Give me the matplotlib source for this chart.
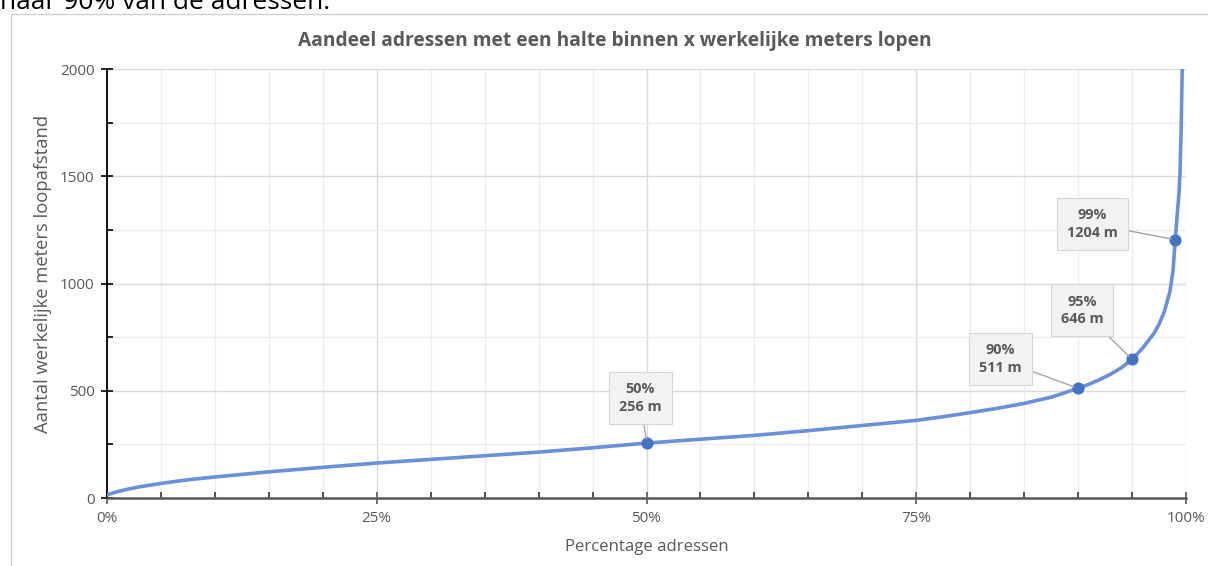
import matplotlib
matplotlib.use("Agg")
import matplotlib.pyplot as plt
from matplotlib.patches import Rectangle
from matplotlib.ticker import MultipleLocator, FuncFormatter

pct = [0, 1, 2, 3, 5, 7.5, 10, 15, 20, 25, 30, 35, 40, 45, 50, 55, 60, 65, 70, 75,
       77.5, 80, 82.5, 85, 87.5, 90, 91, 92, 93, 94, 95, 96, 97, 97.5, 98, 98.5,
       98.8, 99, 99.2, 99.35, 99.45, 99.55, 99.65, 99.75]
meters = [15, 30, 42, 52, 68, 85, 98, 122, 143, 163, 180, 197, 214, 234, 256, 274, 292, 314, 338, 362,
          379, 398, 418, 441, 470, 511, 530, 552, 577, 607, 646, 700, 765, 810, 870, 960,
          1060, 1204, 1330, 1420, 1520, 1720, 2000, 2200]

# gemarkeerde punten
mark_pct = [50, 90, 95, 99]
mark_m = [256, 511, 646, 1204]
mark_offsets = [(-6, 45), (-78, 29), (-50, 49), (-83, 16)]  # in pixels

title = "Aandeel adressen met een halte binnen x werkelijke meters lopen"
xlabel = "Percentage adressen"
ylabel = "Aantal werkelijke meters loopafstand"

plt.rcParams['font.family'] = ['Open Sans', 'DejaVu Sans']
grey = '#595959'
line_col = '#6A8FDB'
dot_col = '#4472C4'

W, H = 1208, 566
fig = plt.figure(figsize=(W / 100, H / 100), dpi=100)

# tekst van de pagina boven de grafiek (afgesneden)
fig.text(0.0, 1 - 9 / H, "naar 90% van de adressen.", fontsize=19, color='black',
         ha='left', va='baseline')

# kader van de grafiek
fig.patches.append(Rectangle((11 / W, -0.01), 1.1, 1 - 14 / H + 0.01,
                             transform=fig.transFigure, fill=False,
                             edgecolor='#D0D0D0', linewidth=1))

ax = fig.add_axes([107 / W, 1 - 498 / H, (1186 - 107) / W, (498 - 69) / H])

ax.plot(pct, meters, color=line_col, linewidth=2.6, solid_capstyle='round',
        solid_joinstyle='round', zorder=3)
ax.scatter(mark_pct, mark_m, s=60, color=dot_col, zorder=4)

for p, m, (dx, dy) in zip(mark_pct, mark_m, mark_offsets):
    ax.annotate(f"{p}%\n{m} m", xy=(p, m), xytext=(dx * 0.72, dy * 0.72),
                textcoords='offset points', ha='center', va='center',
                fontsize=10.4, fontweight='bold', color=grey, linespacing=1.35,
                bbox=dict(boxstyle='square,pad=0.7', facecolor='#F2F2F2',
                          edgecolor='#D5D5D5', linewidth=0.8),
                arrowprops=dict(arrowstyle='-', color='#A6A6A6', linewidth=1,
                                shrinkA=0, shrinkB=3),
                zorder=5)

ax.set_xlim(0, 100)
ax.set_ylim(0, 2000)

ax.xaxis.set_major_locator(MultipleLocator(25))
ax.xaxis.set_minor_locator(MultipleLocator(5))
ax.yaxis.set_major_locator(MultipleLocator(500))
ax.yaxis.set_minor_locator(MultipleLocator(250))
ax.xaxis.set_major_formatter(FuncFormatter(lambda v, _: f"{v:.0f}%"))

ax.grid(which='minor', color='#EDEDED', linewidth=0.9)
ax.grid(which='major', color='#D9D9D9', linewidth=1)
ax.set_axisbelow(True)

for s in ['top', 'right']:
    ax.spines[s].set_visible(False)
ax.spines['left'].set_color('black')
ax.spines['left'].set_linewidth(1.3)
ax.spines['bottom'].set_color(grey)
ax.spines['bottom'].set_linewidth(1.8)

ax.tick_params(which='major', direction='inout', length=8, width=1.2, colors='black',
               labelcolor=grey, labelsize=11)
ax.tick_params(axis='x', which='major', color=grey, pad=5)
ax.tick_params(axis='y', which='major', pad=5)
ax.tick_params(which='minor', direction='in', length=4, width=1.2, colors='black')
ax.tick_params(axis='x', which='minor', color='#333333')

# titel en aslabels op vaste plekken in de figuur
fig.text(615 / W, 1 - 41 / H, title, fontsize=13.8, fontweight='bold', color=grey,
         ha='center', va='center')
fig.text(647 / W, 1 - 547 / H, xlabel, fontsize=12.1, color=grey, ha='center', va='center')
fig.text(43 / W, 1 - 274 / H, ylabel, fontsize=13.2, color=grey, ha='center', va='center',
         rotation=90)

fig.savefig("out.png", dpi=100)
